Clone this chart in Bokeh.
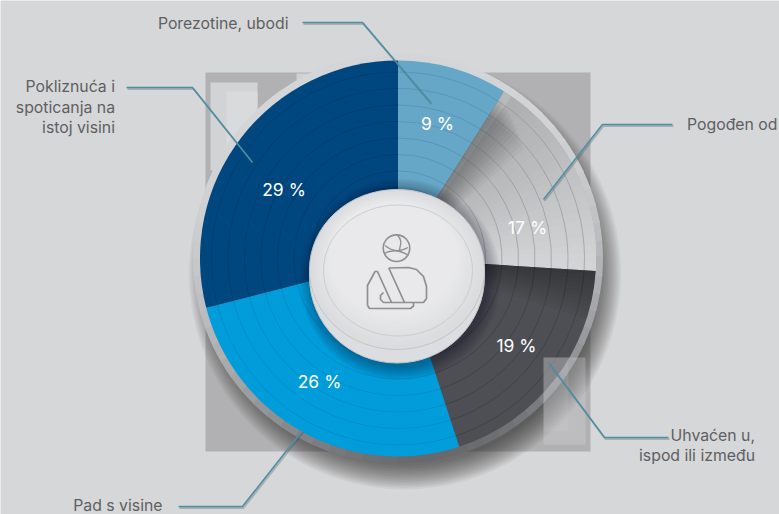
import math
from bokeh.plotting import figure
from bokeh.models import Range1d
from bokeh.core.properties import value
from bokeh.embed import file_html
from bokeh.resources import INLINE

categories = ["Porezotine, ubodi", "Pogođen od", "Uhvaćen u,\nispod ili između", "Pad s visine", "Pokliznuća i\nspoticanja na\nistoj visini"]
shares = [9, 17, 19, 26, 29]
share_labels = ["9 %", "17 %", "19 %", "26 %", "29 %"]
colors = ["#66a7c7", "#b8b9bb", "#4e4f54", "#019ddb", "#00477f"]
ring_colors = ["#4f8db0", "#939497", "#393a3e", "#0086bd", "#003a69"]

W, H = 779, 514
CX, CY, R = 397.5, 258, 198
def Y(py):
    return H - py
def lerp(c1, c2, t):
    t = max(0, min(1, t))
    a = [int(c1[i:i+2], 16) for i in (1, 3, 5)]
    b = [int(c2[i:i+2], 16) for i in (1, 3, 5)]
    return "#%02x%02x%02x" % tuple(round(u + (v - u) * t) for u, v in zip(a, b))

p = figure(width=W, height=H, x_range=Range1d(0, W), y_range=Range1d(0, H),
           toolbar_location=None, output_backend="svg", min_border=0, outline_line_color=None,
           background_fill_color="#d6d7d9", border_fill_color="#d6d7d9",
           styles={"position": "absolute", "left": "0px", "top": "0px"})
p.axis.visible = False
p.grid.visible = False

# grey square and pale panels behind the pie
p.quad(left=[205], right=[590], top=[Y(72)], bottom=[Y(451)], color="#b1b1b3", line_color=None)
p.quad(left=[210], right=[257], top=[Y(82)], bottom=[Y(170)], color="#d2d3d5", line_color=None)
p.quad(left=[226], right=[257], top=[Y(91)], bottom=[Y(170)], color="#d9dadb", line_color=None)
p.quad(left=[296], right=[345], top=[Y(73)], bottom=[Y(115)], color="#d0d1d3", line_color=None)

# pie shadow
for i in range(16):
    rad = R + 18 - i * 1.6
    p.ellipse(x=[CX + 7], y=[Y(CY + 15)], width=[2 * rad], height=[2 * rad],
              color="#1f1f21", alpha=0.05, line_color=None)

# rim, darkest toward the bottom
n_rim = 72
for i in range(n_rim):
    a0 = 2 * math.pi * i / n_rim
    a1 = 2 * math.pi * (i + 1.15) / n_rim
    mid = (a0 + a1) / 2
    t = (1 + math.cos(mid - (-math.pi / 2 + 0.2))) / 2
    col = lerp("#d4d5d7", "#68696c", t ** 2.4)
    p.annular_wedge(x=[CX], y=[Y(CY)], inner_radius=R - 2, outer_radius=R + 7,
                    start_angle=a0, end_angle=a1, color=col, line_color=None)

# wedges, clockwise from 12 o'clock, built from the shares
total = sum(shares)
cum = 0
ring_step = 16.5
INNER = 60
for idx, (s, col, rcol) in enumerate(zip(shares, colors, ring_colors)):
    a0 = math.pi / 2 - 2 * math.pi * cum / total
    a1 = math.pi / 2 - 2 * math.pi * (cum + s) / total
    cum += s
    p.wedge(x=[CX], y=[Y(CY)], radius=R, start_angle=a1, end_angle=a0, color=col, line_color=None)
    if idx == 1:
        # pale wedge lightens clockwise
        for k in range(1, 24):
            ak = a0 + (a1 - a0) * k / 24
            p.wedge(x=[CX], y=[Y(CY)], radius=R, start_angle=a1, end_angle=ak,
                    color=lerp("#acadaf", "#d5d6d8", k / 24), line_color=None)
    r = R - 11.5
    while r > INNER:
        p.arc(x=[CX], y=[Y(CY)], radius=r, start_angle=a1, end_angle=a0, line_color=rcol, line_width=1, line_alpha=0.65)
        r -= ring_step
    if idx == 1:
        # shadow cast by the previous wedge
        for k in range(1, 12):
            p.wedge(x=[CX], y=[Y(CY)], radius=R - 8 - k * 2, start_angle=a0 - math.radians(k * 1.5), end_angle=a0,
                    color="#101012", alpha=0.035, line_color=None)
    if idx == 2:
        for k in range(1, 12):
            p.wedge(x=[CX], y=[Y(CY)], radius=R, start_angle=a0 - math.radians(k * 1.3), end_angle=a0,
                    color="#101012", alpha=0.04, line_color=None)

# pale panel in front of the rim, lower right
p.quad(left=[543], right=[585], top=[Y(357)], bottom=[Y(444)], color="#dcdcde", alpha=0.3, line_color=None)
p.quad(left=[543], right=[568], top=[Y(357)], bottom=[Y(431)], color="#dcdcde", alpha=0.14, line_color=None)

# hub shadow
for i in range(9):
    rad = 88 + i * 1.6
    p.ellipse(x=[CX + 2], y=[Y(CY + 21)], width=[2 * rad], height=[2 * rad],
              color="#0c0c0e", alpha=0.04, line_color=None)

# hub: two stacked discs
p.ellipse(x=[396.5], y=[Y(276)], width=[175], height=[173], color="#dcdde0", line_color="#c5c6c8")
p.ellipse(x=[396.5], y=[Y(269)], width=[175], height=[160], color="#dadbdd", line_color="#c4c5c7")
for k in range(10):
    p.ellipse(x=[396.5 - k * 0.4], y=[Y(269 - k * 1.2)], width=[173 - k * 5], height=[158 - k * 5],
              color=lerp("#dbdcde", "#e9e9eb", k / 9), line_color=None)
p.ellipse(x=[397.5], y=[Y(270)], width=[149], height=[131], fill_color=None, line_color="#cccdcf", line_width=1)

# icon
ic = "#8f8f91"
p.circle(x=[396], y=[Y(247.7)], radius=13.3, fill_color=None, line_color=ic, line_width=1.6)
p.bezier(x0=[384.5], y0=[Y(245)], x1=[407.5], y1=[Y(247)], cx0=[393], cy0=[Y(252)], cx1=[400], cy1=[Y(251)],
         line_color=ic, line_width=1.3)
p.bezier(x0=[383.5], y0=[Y(253)], x1=[408], y1=[Y(255)], cx0=[391], cy0=[Y(249)], cx1=[399], cy1=[Y(249)],
         line_color=ic, line_width=1.3)
p.bezier(x0=[397], y0=[Y(235)], x1=[399], y1=[Y(250)], cx0=[403], cy0=[Y(240)], cx1=[399], cy1=[Y(246)],
         line_color=ic, line_width=1.3)
p.line([367, 367, 374.5, 377, 391], [Y(305), Y(285), Y(271), Y(271), Y(302)], line_color=ic, line_width=1.7)
p.line([367, 369, 410, 413, 413], [Y(305), Y(308), Y(308), Y(305.5), Y(302)], line_color=ic, line_width=1.7)
p.line([388.3, 408, 416, 423, 426, 426, 423, 383, 380, 380, 383],
       [Y(267.5), Y(267), Y(269), Y(276), Y(286), Y(298), Y(302), Y(302), Y(299), Y(295), Y(292)],
       line_color=ic, line_width=1.7)
p.line([388.3, 404], [Y(267.5), Y(302)], line_color=ic, line_width=1.7)

# leader lines
leaders = [
    ([302, 362, 430], [22, 22, 102]),
    ([543, 602, 672], [199, 124, 124]),
    ([548, 604, 668], [362, 437, 437]),
    ([178, 242, 302], [506, 506, 430]),
    ([126, 192, 252], [87, 87, 162]),
]
for xs, ys in leaders:
    p.line([x + 1 for x in xs], [Y(y + 1.5) for y in ys], line_color="#444", line_alpha=0.28, line_width=2)
    p.line(xs, [Y(y) for y in ys], line_color="#4d90a6", line_width=1.6)

# share labels
lx = [437, 527, 516, 319, 283.5]
ly = [123, 227, 345, 381, 189]
p.text(x=lx, y=[Y(v) for v in ly], text=share_labels, text_color="#ffffff", text_font=value("Inter"),
       text_font_size="17.5px", text_align="center", text_baseline="middle")

# category labels
anchors = [(288, 23), (777, 124), (754.5, 445), (162, 505), (114.5, 106.5)]
for cat, (ax, ay) in zip(categories, anchors):
    lines = cat.split("\n")
    top = ay - (len(lines) - 1) * 10.2
    for i, ln in enumerate(lines):
        p.text(x=[ax], y=[Y(top + i * 20.4)], text=[ln], text_color="#5e5f62", text_font=value("Inter"),
               text_font_size="15.8px", text_align="right", text_baseline="middle")

open("out.html", "w").write(file_html(p, INLINE))
